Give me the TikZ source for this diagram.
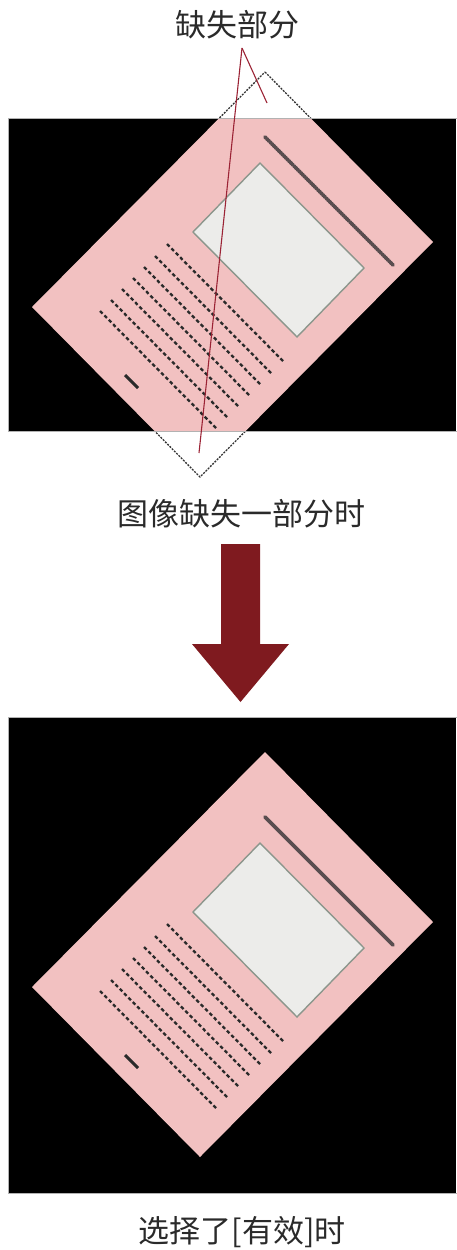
\documentclass[tikz,border=0pt]{standalone}
\usepackage{fontspec}
\newfontfamily\cjk{Noto Sans CJK SC}
\definecolor{pagepink}{HTML}{F2C1C1}
\definecolor{photofill}{HTML}{ECECEA}
\definecolor{photoedge}{HTML}{8C968C}
\definecolor{leadred}{HTML}{9B2335}
\definecolor{arrowred}{HTML}{7F1A1F}
\definecolor{txtgray}{HTML}{2A2A2A}
\definecolor{titlegray}{HTML}{5A4E50}
\newcommand\mypagecontents[1]{%
  \fill[pagepink] (265,72) -- (433,242) -- (200,477) -- (32,307) -- cycle;
  \filldraw[fill=photofill, draw=photoedge, line width=1.4] (260,163) -- (364,268) -- (297,337) -- (193,232) -- cycle;
  \draw[titlegray, line width=3.8, line cap=round, #1] (265,137) -- (393,265);
  \foreach \sx/\sy in {167/244,155/256,144/267,133/278,122/289,111/300,100/311}{
    \draw[textline] (\sx,\sy) -- ++(116,117);
  }
  \draw[txtgray, line width=3] (125,375) -- (138,388);
}
\begin{document}
\begin{tikzpicture}[x=1pt,y=-1pt,
  textline/.style={txtgray, line width=2.3, dash pattern=on 3.6pt off 2.6pt},
  outline/.style={draw=black!80, line width=1.3, dash pattern=on 2pt off 1.2pt},
  caption/.style={font=\cjk\fontsize{31}{36}\selectfont, text=txtgray, inner sep=0},
  leader/.style={draw=leadred, line width=1.1}]
\useasboundingbox (0,0) rectangle (456,1250);
% ---------- upper picture ----------
\draw[outline] (265,72) -- (433,242) -- (200,477) -- (32,307) -- cycle;
\fill[fill=black] (8,118) rectangle (456,431);
\begin{scope}
  \clip (8,118) rectangle (456,431);
  \mypagecontents{dash pattern=on 1.4pt off 1pt}
\end{scope}
\draw[draw=gray!60, line width=0.8] (8,118) rectangle (457,431);
\node[caption] (lbl) at (237,25) {缺失部分};
\coordinate (apex) at (242,48);
\coordinate (miss1) at (267,103);
\coordinate (miss2) at (199,453);
\draw[leader] (apex) -- (miss1);
\draw[leader] (apex) -- (miss2);
\node[caption] (cap1) at (241,514) {图像缺失一部分时};
% ---------- arrow ----------
\fill[arrowred] (221,544) -- (260,544) -- (260,644) -- (289,644) -- (240.5,702) -- (192,644) -- (221,644) -- cycle;
\coordinate (arrowtip) at (240.5,702);
% ---------- lower picture ----------
\fill[fill=black] (8,717) rectangle (456,1193);
\begin{scope}[yshift=-680pt]
  \mypagecontents{}
\end{scope}
\draw[draw=gray!60, line width=0.8] (8,717) rectangle (457,1193);
\node[caption] (cap2) at (242,1232) {选择了[有效]时};
\end{tikzpicture}
\end{document}
